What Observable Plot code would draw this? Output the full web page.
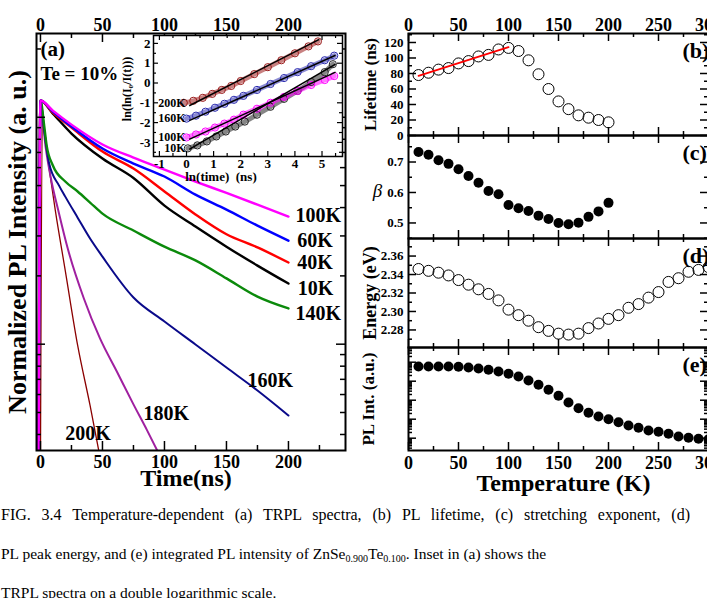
<!DOCTYPE html>
<html>
<head>
<meta charset="utf-8">
<script src="https://cdn.jsdelivr.net/npm/d3@7"></script>
<script src="https://cdn.jsdelivr.net/npm/@observablehq/plot@0.6"></script>
<style>
  html, body { margin: 0; padding: 0; background: #fff; overflow: hidden; }
  #fig { position: relative; width: 707px; height: 598px; overflow: hidden;
         font-family: "Liberation Serif", "Times New Roman", serif; }
  #fig svg { position: absolute; }
  #caption { position: absolute; left: 1px; top: 495px; font-size: 15.5px; color: #000; }
  #caption div { height: 39px; line-height: 39px; white-space: nowrap; }
  #caption .full { width: 689px; font-size: 16px; text-align: justify; text-align-last: justify; white-space: normal; }
  #caption sub { font-size: 10px; line-height: 0; vertical-align: -3px; }
</style>
</head>
<body>
<div id="fig">
  <div id="caption">
    <div class="full">FIG. 3.4 Temperature-dependent (a) TRPL spectra, (b) PL lifetime, (c) stretching exponent, (d)</div>
    <div>PL peak energy, and (e) integrated PL intensity of ZnSe<sub>0.900</sub>Te<sub>0.100</sub>. Inset in (a) shows the</div>
    <div>TRPL spectra on a double logarithmic scale.</div>
  </div>
</div>
<script>
// ---------------- (a) TRPL decays: time (ns) vs normalized PL intensity ----------------
const tLow   = [-1.5, 0, 10, 25, 50, 75, 100, 125, 150, 175, 200];
const pl10K  = [0.03, 1.185, 1.038, 0.848, 0.658, 0.540, 0.408, 0.330, 0.269, 0.222, 0.185];
const pl40K  = [0.03, 1.185, 1.049, 0.901, 0.706, 0.594, 0.471, 0.373, 0.305, 0.267, 0.229];
const pl60K  = [0.03, 1.185, 1.060, 0.910, 0.728, 0.625, 0.548, 0.456, 0.392, 0.333, 0.286];
const pl100K = [0.03, 1.185, 1.070, 0.928, 0.759, 0.664, 0.588, 0.521, 0.464, 0.412, 0.365];
const t140K  = [-1.5, 0, 3, 5, 10, 20, 30, 40, 50, 75, 100, 125, 150, 175, 200];
const pl140K = [0.03, 1.185, 0.919, 0.750, 0.613, 0.521, 0.471, 0.421, 0.376, 0.317, 0.269, 0.234, 0.195, 0.162, 0.1437];
const t160K  = [-1.5, 0, 3, 7, 15, 20, 30, 40, 50, 75, 100, 125, 150, 175, 200];
const pl160K = [0.03, 1.185, 0.874, 0.625, 0.500, 0.447, 0.361, 0.292, 0.243, 0.1606, 0.1259, 0.0997, 0.0789, 0.0625, 0.0485];
const t180K  = [-1.5, 0, 4, 8, 15, 22, 35, 48, 62, 75, 86, 95];
const pl180K = [0.03, 1.185, 0.750, 0.553, 0.376, 0.264, 0.159, 0.106, 0.0750, 0.0543, 0.0417, 0.0333];
const t200K  = [0, 1.5, 7, 12, 20, 30, 40, 47];
const pl200K = [0.03, 0.967, 0.594, 0.388, 0.211, 0.0987, 0.0537, 0.034];

// temperature labels next to the decays (time, intensity)
const decayLabels    = ["100K", "60K", "40K", "10K", "140K", "160K", "180K", "200K"];
const decayLabelTime = [205.6, 207, 207, 207.5, 205.6, 167, 83, 20];
const decayLabelPL   = [0.369, 0.286, 0.230, 0.175, 0.136, 0.0692, 0.0495, 0.0404];

// ---------------- inset: ln(ln(I0/I(t))) vs ln(time) ----------------
const lnT200 = [-0.1, 0.25, 0.6, 0.95, 1.3, 1.65, 2.0, 2.5, 3.0, 3.5, 4.0, 4.5, 4.85];
const lnI200 = [-1.0, -0.9, -0.75, -0.55, -0.35, -0.15, 0.1, 0.45, 0.8, 1.15, 1.5, 1.85, 2.1];
const lnT160 = [0.0, 0.35, 0.7, 1.05, 1.4, 1.75, 2.1, 2.6, 3.1, 3.6, 4.1, 4.6, 5.1, 5.45];
const lnI160 = [-1.8, -1.65, -1.45, -1.25, -1.05, -0.85, -0.65, -0.35, -0.05, 0.25, 0.55, 0.85, 1.15, 1.38];
const lnT100 = [0.0, 0.35, 0.7, 1.05, 1.4, 1.75, 2.1, 2.6, 3.1, 3.6, 4.1, 4.6, 5.1, 5.45];
const lnI100 = [-2.75, -2.6, -2.45, -2.25, -2.05, -1.85, -1.6, -1.3, -1.0, -0.7, -0.4, -0.1, 0.15, 0.35];
const lnT10  = [0.05, 0.4, 0.75, 1.1, 1.45, 1.8, 2.15, 2.6, 3.1, 3.6, 4.1, 4.6, 5.1, 5.4];
const lnI10  = [-3.3, -3.15, -2.95, -2.7, -2.45, -2.2, -1.95, -1.6, -1.2, -0.8, -0.4, 0.05, 0.55, 0.95];
// straight-line fits: [start, end]
const fitLabels = ["200K", "160K", "100K", "10K"];
const fitX1 = [0.1, 0.1, 0.1, 0.1];
const fitY1 = [-1.15, -1.9, -2.85, -3.35];
const fitX2 = [4.9, 5.5, 5.5, 5.5];
const fitY2 = [2.2, 1.4, 0.55, 0.95];

// ---------------- (b)-(e) versus temperature ----------------
const tempB    = [10, 20, 30, 40, 50, 60, 70, 80, 90, 100, 110, 120, 130, 140, 150, 160, 170, 180, 190, 200];
const lifetime = [78, 81, 85, 87, 93, 96, 102, 104, 111, 113, 109, 97, 79, 60, 44, 34, 26, 23, 20, 17];
const lifeFitT = [10, 100];
const lifeFitV = [77, 114];
const beta     = [0.733, 0.724, 0.706, 0.694, 0.676, 0.654, 0.632, 0.605, 0.594, 0.559,
                  0.548, 0.539, 0.524, 0.513, 0.500, 0.496, 0.501, 0.520, 0.538, 0.566];
const tempDE   = [10, 20, 30, 40, 50, 60, 70, 80, 90, 100, 110, 120, 130, 140, 150,
                  160, 170, 180, 190, 200, 210, 220, 230, 240, 250, 260, 270, 280, 290, 300];
const peakEnergy = [2.346, 2.344, 2.342, 2.339, 2.334, 2.329, 2.324, 2.319, 2.312, 2.302,
                    2.296, 2.290, 2.283, 2.279, 2.276, 2.275, 2.276, 2.282, 2.287, 2.292,
                    2.296, 2.304, 2.308, 2.315, 2.321, 2.332, 2.336, 2.343, 2.345, 2.348];
const plIntegrated = [59400, 59400, 59400, 59400, 57300, 52600, 46600, 39800, 32400, 24500,
                      17700, 10900, 6460, 3520, 1710, 757, 379, 217, 139, 100,
                      69.5, 46.6, 35.2, 25.4, 21.7, 17.1, 12.3, 10.5, 9.3, 8.85];

// ---------------- helpers ----------------
const SERIF = "'Liberation Serif','Times New Roman',serif";
const fig = document.getElementById("fig");
const baseStyle = {fontFamily: SERIF, background: "transparent", overflow: "visible", color: "black"};
const B = {fontWeight: "bold", fill: "black"};

function place(svg, left, top) {
  svg.style.left = left + "px";
  svg.style.top = top + "px";
  fig.appendChild(svg);
}
function steps(a, b, s) {
  const out = [];
  for (let k = 0; a + k * s <= b + 1e-9; k++) out.push(+(a + k * s).toFixed(6));
  return out;
}
function logTicks(lo, hi) {
  const major = [], minor = [];
  for (let e = Math.floor(Math.log10(lo)); e <= Math.ceil(Math.log10(hi)); e++)
    for (let m = 1; m < 10; m++) {
      const v = m * 10 ** e;
      if (v >= lo && v <= hi) (m === 1 ? major : minor).push(v);
    }
  return {major, minor};
}
// ticks drawn inside the frame on every side
function inwardTicks({xMajor = [], xMinor = [], yMajor = [], yMinor = [], fw, fh,
                      xSides = ["top", "bottom"], ySides = ["left", "right"],
                      majorLen = 8, minorLen = 4, sw = 1.5}) {
  const marks = [];
  for (const side of xSides) {
    const key = side === "bottom" ? "insetTop" : "insetBottom";
    marks.push(Plot.tickX(xMajor, {x: d => d, stroke: "black", strokeWidth: sw, [key]: fh - majorLen}));
    marks.push(Plot.tickX(xMinor, {x: d => d, stroke: "black", strokeWidth: sw, [key]: fh - minorLen}));
  }
  for (const side of ySides) {
    const key = side === "left" ? "insetRight" : "insetLeft";
    marks.push(Plot.tickY(yMajor, {y: d => d, stroke: "black", strokeWidth: sw, [key]: fw - majorLen}));
    marks.push(Plot.tickY(yMinor, {y: d => d, stroke: "black", strokeWidth: sw, [key]: fw - minorLen}));
  }
  return marks;
}
const zip = (xs, ys) => xs.map((x, k) => ({x, y: ys[k]}));
// a rotated axis title centred on the frame's left edge
const sideTitle = (text, dx, fontSize, dy = 0) =>
  Plot.text([text], {frameAnchor: "left", textAnchor: "middle", lineAnchor: "middle",
                     dx, dy, rotate: -90, fontSize, ...B});
// a text placed relative to a frame anchor, centred vertically on the given offset
const anchored = (text, frameAnchor, dx, dy, fontSize, extra = {}) =>
  Plot.text([text], {frameAnchor, dx, dy, lineAnchor: "middle", fontSize, ...B, ...extra});

// ---------------- panel (a) ----------------
const decays = [
  {t: t200K, v: pl200K, color: "#8b0000", w: 1.3},
  {t: t180K, v: pl180K, color: "#a020a0", w: 2},
  {t: t160K, v: pl160K, color: "#0a0a8a", w: 2},
  {t: t140K, v: pl140K, color: "#0b8a0b", w: 2.4},
  {t: tLow,  v: pl10K,  color: "#000000", w: 2.4},
  {t: tLow,  v: pl40K,  color: "#ff0000", w: 2.4},
  {t: tLow,  v: pl60K,  color: "#0000ff", w: 2.4},
  {t: tLow,  v: pl100K, color: "#ff00ff", w: 2.4}
];
const aFrame = {left: 36, top: 33, right: 345, bottom: 450};
const aW = 360, aH = 500;
const aFW = aFrame.right - aFrame.left, aFH = aFrame.bottom - aFrame.top;
const aLog = logTicks(0.034, 2.34);

const plotA = Plot.plot({
  width: aW, height: aH,
  marginLeft: aFrame.left, marginTop: aFrame.top,
  marginRight: aW - aFrame.right, marginBottom: aH - aFrame.bottom,
  x: {domain: [-3.2, 246]},
  y: {type: "log", domain: [0.034, 2.34], axis: null},
  style: baseStyle,
  marks: [
    ...decays.map(s => Plot.line(zip(s.t, s.v), {x: "x", y: "y", stroke: s.color, strokeWidth: s.w,
                                                 curve: "monotone-x", clip: true})),
    Plot.text(decayLabels, {x: (d, k) => decayLabelTime[k], y: (d, k) => decayLabelPL[k], text: d => d,
                            textAnchor: "start", fontSize: 20, ...B}),
    ...inwardTicks({xMajor: [0, 50, 100, 150, 200], xMinor: [25, 75, 125, 175, 225],
                    yMajor: aLog.major, yMinor: aLog.minor, fw: aFW, fh: aFH, majorLen: 9, minorLen: 5}),
    Plot.axisX({anchor: "bottom", ticks: [0, 50, 100, 150, 200], tickSize: 0, tickPadding: 5,
                tickFormat: d => String(d), label: null, fontSize: 18, ...B}),
    Plot.axisX({anchor: "top", ticks: [0, 50, 100, 150, 200], tickSize: 0, tickPadding: 3,
                tickFormat: d => String(d), label: null, fontSize: 18, ...B}),
    Plot.frame({stroke: "black", strokeWidth: 2}),
    anchored("(a)", "top-left", 4, 16, 21, {textAnchor: "start"}),
    anchored("Te = 10%", "top-left", 4, 40, 19, {textAnchor: "start"}),
    sideTitle("Normalized PL Intensity (a. u.)", -19, 26),
    anchored("Time(ns)", "bottom", -5, 28, 24, {textAnchor: "middle"})
  ]
});
place(plotA, 0, 0);

// ---------------- inset of (a) ----------------
const insetSets = [
  {x: lnT200, y: lnI200, color: "#9a1a1a"},
  {x: lnT160, y: lnI160, color: "#2b2bb0"},
  {x: lnT10,  y: lnI10,  color: "#222222"},
  {x: lnT100, y: lnI100, color: "#ff00ff"}
];
const iFrame = {left: 33, top: 10, w: 189, h: 121};
const iW = 230, iH = 160;
const insetFits = fitLabels.map((name, k) => ({name, x1: fitX1[k], y1: fitY1[k], x2: fitX2[k], y2: fitY2[k]}));
const plotInset = Plot.plot({
  width: iW, height: iH,
  marginLeft: iFrame.left, marginTop: iFrame.top,
  marginRight: iW - iFrame.left - iFrame.w, marginBottom: iH - iFrame.top - iFrame.h,
  x: {domain: [-1.218, 5.756]},
  y: {domain: [-3.712, 2.399]},
  style: baseStyle,
  marks: [
    Plot.frame({fill: "white", stroke: "none"}),
    ...insetSets.map(s => Plot.line(zip(s.x, s.y), {x: "x", y: "y", stroke: s.color, strokeWidth: 5,
                                                     strokeOpacity: 0.55, curve: "monotone-x"})),
    ...insetSets.map(s => Plot.dot(zip(s.x, s.y), {x: "x", y: "y", r: 3.6, stroke: s.color,
                                                    strokeWidth: 1, fill: "none"})),
    Plot.link(insetFits, {x1: "x1", y1: "y1", x2: "x2", y2: "y2", stroke: "black", strokeWidth: 1.5}),
    Plot.text(insetSets, {x: 0, y: s => s.y[0], text: (s, k) => ["200K", "160K", "10K", "100K"][k],
                          textAnchor: "end", dx: -1, fontSize: 12, ...B}),
    ...inwardTicks({xMajor: steps(-1, 5, 1), xMinor: steps(-0.5, 5.5, 1),
                    yMajor: steps(-3, 2, 1), yMinor: steps(-3.5, 2, 1),
                    fw: iFrame.w, fh: iFrame.h, majorLen: 5, minorLen: 3, sw: 1.2}),
    Plot.axisX({anchor: "bottom", ticks: steps(-1, 5, 1), tickSize: 0, tickPadding: 2,
                tickFormat: d => String(d), label: null, fontSize: 13, ...B}),
    Plot.axisY({anchor: "left", ticks: steps(-3, 2, 1), tickSize: 0, tickPadding: 3,
                tickFormat: d => String(d), label: null, fontSize: 13, ...B}),
    Plot.frame({stroke: "black", strokeWidth: 1.5}),
    anchored("ln(time)\u00a0\u00a0(ns)", "bottom", -27, 20, 13, {textAnchor: "middle"}),
    sideTitle("ln(ln(I\u2080/I(t)))", -26, 12, -7)
  ]
});
place(plotInset, 120, 25);

// ---------------- panels (b)-(e) ----------------
const rW = 360, rML = 48, rMR = 12, rFW = rW - rML - rMR;
const tempMajor = steps(0, 300, 50), tempMinor = steps(25, 275, 50);

function rightPanel({frameTop, frameBottom, mt = 4, mb = 4, x = {domain: [0, 300]}, y, yMajor, yMinor, marks}) {
  const fh = frameBottom - frameTop;
  const svg = Plot.plot({
    width: rW, height: mt + fh + mb,
    marginLeft: rML, marginRight: rMR, marginTop: mt, marginBottom: mb,
    x, y,
    style: baseStyle,
    marks: [
      ...marks,
      ...inwardTicks({xMajor: tempMajor, xMinor: tempMinor, yMajor, yMinor, fw: rFW, fh,
                      majorLen: 8, minorLen: 4}),
      Plot.frame({stroke: "black", strokeWidth: 2})
    ]
  });
  place(svg, 360, frameTop - mt);
}
const panelTag = tag => anchored(tag, "top-right", -26, 17, 22, {textAnchor: "start"});
const yTickLabels = (ticks, fmt) => Plot.axisY({anchor: "left", ticks, tickSize: 0, tickPadding: 5,
                                                tickFormat: fmt, label: null, fontSize: 13, ...B});

// (b) PL lifetime
rightPanel({
  frameTop: 33, frameBottom: 135, mt: 33,
  y: {domain: [0, 131.6]},
  yMajor: steps(0, 120, 20), yMinor: steps(10, 130, 20),
  marks: [
    Plot.dot(zip(tempB, lifetime), {x: "x", y: "y", r: 5.5, stroke: "black", strokeWidth: 1, fill: "none"}),
    Plot.line(zip(lifeFitT, lifeFitV), {x: "x", y: "y", stroke: "#ff0000", strokeWidth: 1.8}),
    yTickLabels(steps(0, 120, 20), d => String(d)),
    Plot.axisX({anchor: "top", ticks: tempMajor, tickSize: 0, tickPadding: 3,
                tickFormat: d => String(d), label: null, fontSize: 18, ...B}),
    panelTag("(b)"),
    sideTitle("Lifetime (ns)", -38, 17)
  ]
});

// (c) stretching exponent
rightPanel({
  frameTop: 135, frameBottom: 238,
  x: {domain: [0, 300], axis: null},
  y: {domain: [0.449, 0.787]},
  yMajor: [0.5, 0.6, 0.7], yMinor: [0.45, 0.55, 0.65, 0.75],
  marks: [
    Plot.dot(zip(tempB, beta), {x: "x", y: "y", r: 5, fill: "black"}),
    yTickLabels([0.5, 0.6, 0.7], d => d.toFixed(1)),
    panelTag("(c)"),
    Plot.text(["\u03b2"], {frameAnchor: "left", textAnchor: "middle", dx: -31, dy: 4, fontSize: 19,
                           fontStyle: "italic", fill: "black"})
  ]
});

// (d) PL peak energy
rightPanel({
  frameTop: 238, frameBottom: 347,
  x: {domain: [0, 300], axis: null},
  y: {domain: [2.261, 2.379]},
  yMajor: steps(2.28, 2.36, 0.02), yMinor: steps(2.27, 2.37, 0.02),
  marks: [
    Plot.dot(zip(tempDE, peakEnergy), {x: "x", y: "y", r: 5.5, stroke: "black", strokeWidth: 1, fill: "none"}),
    yTickLabels(steps(2.28, 2.36, 0.02), d => d.toFixed(2)),
    panelTag("(d)"),
    sideTitle("Energy (eV)", -38, 18)
  ]
});

// (e) integrated PL intensity (log scale)
const eLog = logTicks(2.25, 594000);
rightPanel({
  frameTop: 347, frameBottom: 450, mb: 50,
  y: {type: "log", domain: [2.25, 594000], axis: null},
  yMajor: eLog.major, yMinor: eLog.minor,
  marks: [
    Plot.dot(zip(tempDE, plIntegrated), {x: "x", y: "y", r: 5, fill: "black"}),
    Plot.axisX({anchor: "bottom", ticks: tempMajor, tickSize: 0, tickPadding: 6,
                tickFormat: d => String(d), label: null, fontSize: 18, ...B}),
    panelTag("(e)"),
    sideTitle("PL Int. (a.u.)", -40, 17),
    anchored("Temperature (K)", "bottom", 5, 33, 24, {textAnchor: "middle"})
  ]
});
</script>
</body>
</html>
